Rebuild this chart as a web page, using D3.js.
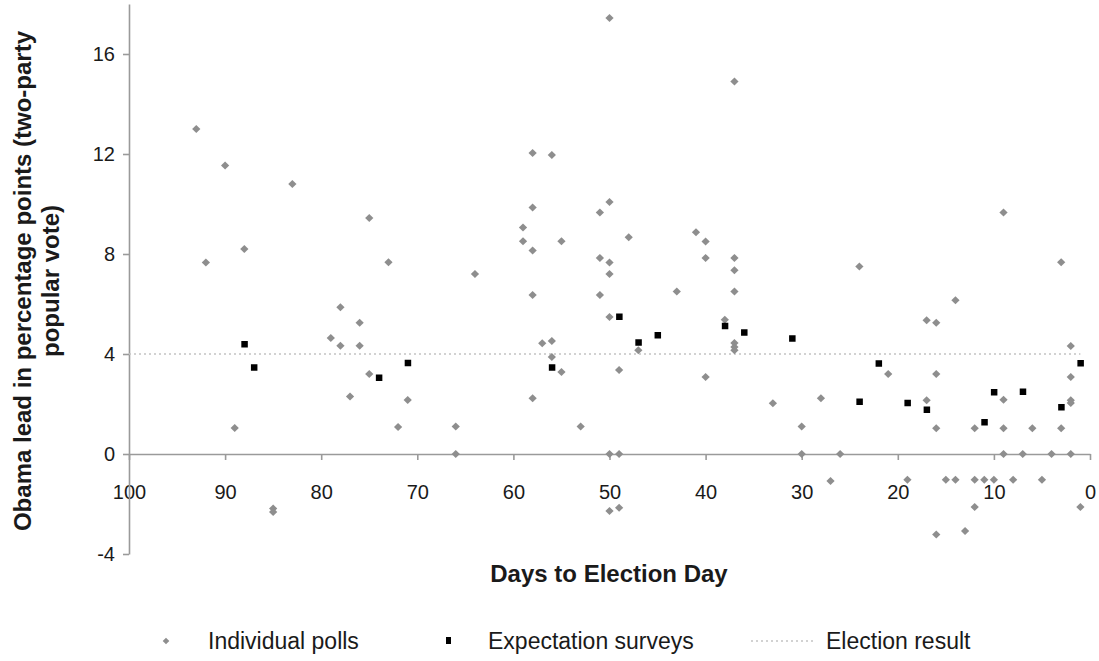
<!DOCTYPE html>
<html>
<head>
<meta charset="utf-8">
<script src="https://cdn.jsdelivr.net/npm/d3@7"></script>
<style>
  body { margin: 0; background: #fff; }
  text { font-family: "Liberation Sans", Arial, sans-serif; fill: #1a1a1a; }
</style>
</head>
<body>
<svg width="1099" height="661"></svg>
<script>
const width = 1099;
const height = 661;

// individual polls: days to election, Obama lead
const pollDays = [93, 92, 90, 89, 88, 85, 85, 83, 79, 78, 78, 77, 76, 76, 75, 75, 73, 72, 71, 66, 66, 64,
    59, 59, 58, 58, 58, 58, 58, 57, 56, 56, 56, 55, 55, 53, 51, 51, 51, 50, 50, 50, 50, 50, 50, 50,
    49, 49, 49, 48, 47, 43, 41, 40, 40, 40, 38, 37, 37, 37, 37, 37, 37, 37, 33, 30, 30, 28, 27, 26,
    24, 21, 19, 17, 17, 16, 16, 16, 16, 15, 14, 14, 13, 12, 12, 12, 11, 10, 9, 9, 9, 9, 8, 7, 6, 5,
    4, 3, 3, 2, 2, 2, 2, 2, 1];
const pollLeads = [13.0, 7.66, 11.54, 1.04, 8.2, -2.18, -2.32, 10.8, 4.64, 5.87, 4.33, 2.3, 5.25, 4.33, 9.44, 3.2, 7.67, 1.08, 2.16, 1.1, 0, 7.2,
    9.06, 8.51, 12.04, 9.86, 8.14, 6.36, 2.23, 4.43, 11.96, 4.52, 3.88, 8.51, 3.28, 1.1, 9.66, 7.84, 6.36, 17.44, 10.08, 7.66, 7.2, 5.48, 0, -2.28,
    3.36, 0, -2.15, 8.67, 4.15, 6.5, 8.87, 8.5, 7.84, 3.08, 5.37, 14.9, 7.84, 7.35, 6.5, 4.44, 4.28, 4.15, 2.03, 1.1, 0, 2.23, -1.08, 0,
    7.5, 3.2, -1.03, 5.35, 2.15, 5.25, 3.2, 1.03, -3.22, -1.03, 6.15, -1.03, -3.08, 1.03, -1.03, -2.12, -1.03, -1.03, 9.66, 2.17, 1.03, 0, -1.03, 0, 1.03, -1.03,
    0, 7.67, 1.03, 4.32, 3.08, 2.15, 2.04, 0, -2.12];

// expectation surveys
const surveyDays = [88, 87, 74, 71, 56, 49, 47, 45, 38, 36, 31, 24, 22, 19, 17, 11, 10, 7, 3, 1];
const surveyLeads = [4.4, 3.47, 3.06, 3.65, 3.47, 5.5, 4.47, 4.76, 5.13, 4.87, 4.63, 2.1, 3.63, 2.05, 1.78, 1.28, 2.48, 2.5, 1.88, 3.64];

// election result line
const resultDays = [100, 1];
const resultLead = 4;

const yTicks = [-4, 0, 4, 8, 12, 16];
const xTicks = [100, 90, 80, 70, 60, 50, 40, 30, 20, 10, 0];

const polls = pollDays.map((d, i) => ({ day: d, lead: pollLeads[i] }));
const surveys = surveyDays.map((d, i) => ({ day: d, lead: surveyLeads[i] }));

const xScale = d3.scaleLinear()
    .domain([100, 0])
    .range([129, 1090]);

const yScale = d3.scaleLinear()
    .domain([-4, 18])
    .range([554, 4]);

const svg = d3.select('svg')
    .attr('width', width)
    .attr('height', height);

const axisColor = '#9a9a9a';

const xAxis = d3.axisBottom(xScale)
    .tickValues(xTicks)
    .tickSize(6)
    .tickSizeOuter(0)
    .tickPadding(25);

const yAxis = d3.axisLeft(yScale)
    .tickValues(yTicks)
    .tickFormat((d) => String(d))
    .tickSize(6)
    .tickSizeOuter(0)
    .tickPadding(8);

const gx = svg.append('g')
    .attr('transform', `translate(0, ${yScale(0)})`)
    .call(xAxis);

const gy = svg.append('g')
    .attr('transform', `translate(${xScale(100)}, 0)`)
    .call(yAxis);

[gx, gy].forEach((g) => {
    g.select('.domain').attr('stroke', axisColor).attr('stroke-width', 1.6);
    g.selectAll('.tick line').attr('stroke', axisColor).attr('stroke-width', 1.6);
    g.selectAll('.tick text')
        .style('font-family', '"Liberation Sans", Arial, sans-serif')
        .style('font-size', '20px')
        .attr('fill', '#1a1a1a');
});

// election result
svg.append('line')
    .attr('x1', xScale(resultDays[0]))
    .attr('x2', xScale(resultDays[1]))
    .attr('y1', yScale(resultLead))
    .attr('y2', yScale(resultLead))
    .attr('stroke', '#c4c4c4')
    .attr('stroke-width', 1.6)
    .attr('stroke-dasharray', '2,3');

const diamond = d3.symbol().type(d3.symbolSquare).size(34);

svg.append('g')
    .selectAll('path')
    .data(polls)
    .enter()
    .append('path')
        .attr('d', diamond)
        .attr('transform', (d) => `translate(${xScale(d.day)}, ${yScale(d.lead)}) rotate(45)`)
        .attr('fill', '#8e8e8e');

svg.append('g')
    .selectAll('rect')
    .data(surveys)
    .enter()
    .append('rect')
        .attr('x', (d) => xScale(d.day) - 3)
        .attr('y', (d) => yScale(d.lead) - 3)
        .attr('width', 6.5)
        .attr('height', 6.5)
        .attr('fill', '#000');

// axis titles
svg.append('text')
    .attr('x', 609)
    .attr('y', 582)
    .style('text-anchor', 'middle')
    .style('font-size', '24px')
    .style('font-weight', 'bold')
    .text('Days to Election Day');

const yTitle = svg.append('text')
    .attr('transform', 'translate(0, 281) rotate(-90)')
    .style('text-anchor', 'middle')
    .style('font-size', '24px')
    .style('font-weight', 'bold');

yTitle.append('tspan')
    .attr('x', 0)
    .attr('y', 31)
    .text('Obama lead in percentage points (two-party');

yTitle.append('tspan')
    .attr('x', 0)
    .attr('y', 59)
    .text('popular vote)');

// legend
const legend = svg.append('g');

legend.append('path')
    .attr('d', d3.symbol().type(d3.symbolSquare).size(22))
    .attr('transform', 'translate(166, 641) rotate(45)')
    .attr('fill', '#8e8e8e');

legend.append('text')
    .attr('x', 208)
    .attr('y', 649)
    .style('font-size', '23px')
    .text('Individual polls');

legend.append('rect')
    .attr('x', 446)
    .attr('y', 637)
    .attr('width', 5)
    .attr('height', 7)
    .attr('fill', '#000');

legend.append('text')
    .attr('x', 488)
    .attr('y', 649)
    .style('font-size', '23px')
    .text('Expectation surveys');

legend.append('line')
    .attr('x1', 751)
    .attr('x2', 816)
    .attr('y1', 641)
    .attr('y2', 641)
    .attr('stroke', '#c4c4c4')
    .attr('stroke-width', 1.6)
    .attr('stroke-dasharray', '2,3');

legend.append('text')
    .attr('x', 826)
    .attr('y', 649)
    .style('font-size', '23px')
    .text('Election result');
</script>
</body>
</html>
